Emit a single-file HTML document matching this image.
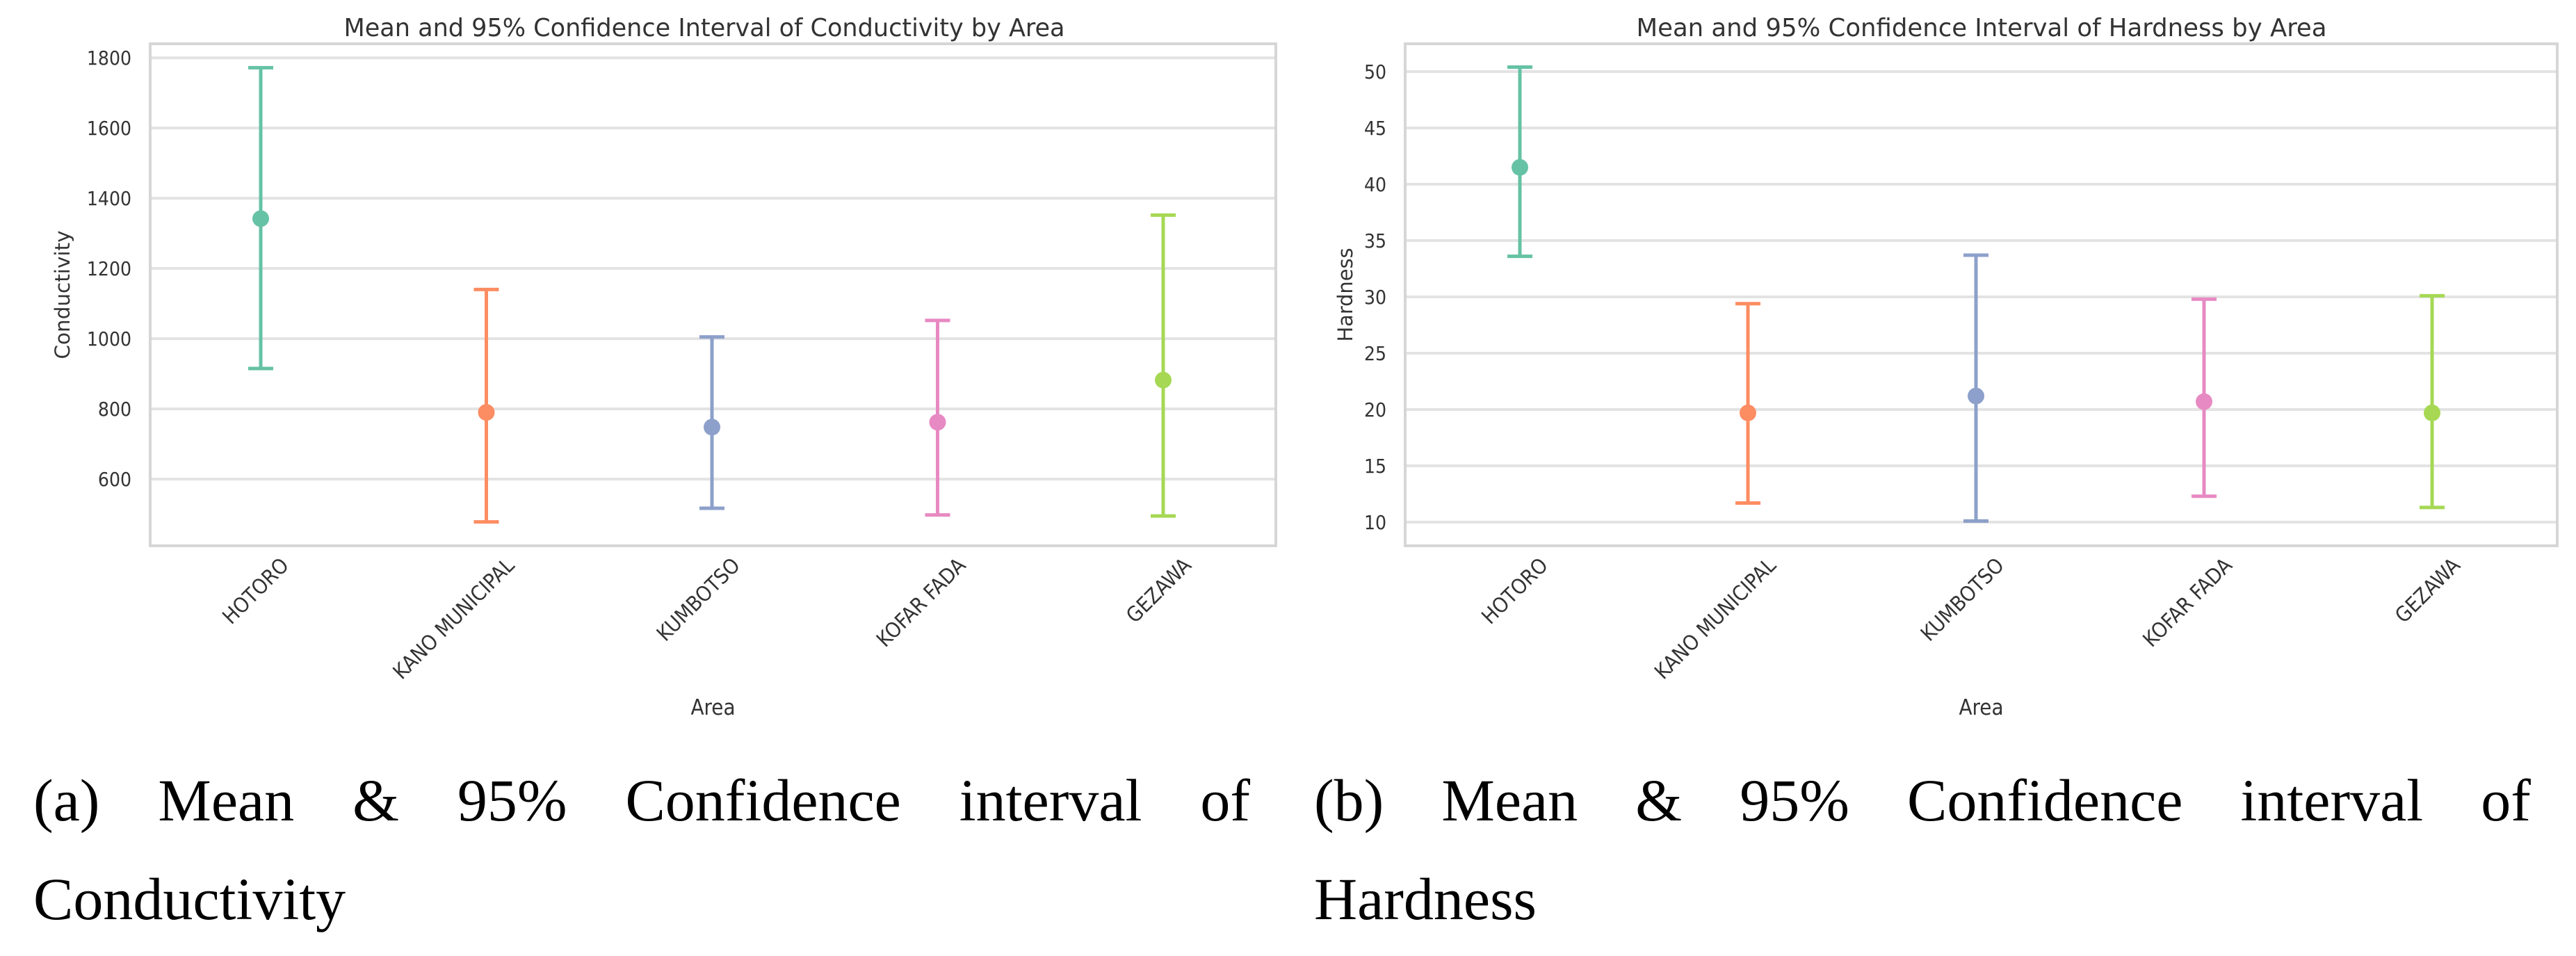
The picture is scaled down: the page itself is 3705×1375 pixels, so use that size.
<!DOCTYPE html>
<html><head><meta charset="utf-8"><style>
html,body{margin:0;padding:0;background:#fff;}
body{width:3705px;height:1375px;position:relative;overflow:hidden;}
svg{position:absolute;left:0;top:0;}
.cap{position:absolute;font-family:"Liberation Serif","DejaVu Serif",serif;font-size:86px;color:#000;line-height:142px;text-align:justify;text-align-last:justify;white-space:nowrap;}
</style></head><body>
<svg id="chart" width="3705" height="1050" viewBox="0 0 3705 1050"></svg>
<div class="cap" style="left:48px;top:1080px;width:1750px;">
<div style="display:flex;justify-content:space-between;"><span>(a)</span><span>Mean</span><span>&amp;</span><span>95%</span><span>Confidence</span><span>interval</span><span>of</span></div>
<div>Conductivity</div>
</div>
<div class="cap" style="left:1890px;top:1080px;width:1750px;">
<div style="display:flex;justify-content:space-between;"><span>(b)</span><span>Mean</span><span>&amp;</span><span>95%</span><span>Confidence</span><span>interval</span><span>of</span></div>
<div>Hardness</div>
</div>
<script>
const categories = ["HOTORO","KANO MUNICIPAL","KUMBOTSO","KOFAR FADA","GEZAWA"];
const colors = ["#66c2a5","#fc8d62","#8da0cb","#e78ac3","#a6d854"];
const condMean = [1342, 790, 748, 762, 882];
const condLow = [915, 478, 517, 498, 495];
const condHigh = [1772, 1140, 1005, 1052, 1352];
const condTicks = [600, 800, 1000, 1200, 1400, 1600, 1800];
const hardMean = [41.5, 19.7, 21.2, 20.7, 19.7];
const hardLow = [33.6, 11.7, 10.1, 12.3, 11.3];
const hardHigh = [50.4, 29.4, 33.7, 29.8, 30.1];
const hardTicks = [10, 15, 20, 25, 30, 35, 40, 45, 50];

const NS = "http://www.w3.org/2000/svg";
const svg = document.getElementById('chart');
function mk(tag, attrs, parent){const e=document.createElementNS(NS,tag);for(const k in attrs)e.setAttribute(k,attrs[k]);(parent||svg).appendChild(e);return e;}
const FONT = '"DejaVu Sans Condensed","DejaVu Sans","Liberation Sans",sans-serif';

function drawChart(cfg){
  const g = mk('g',{});
  
  
  const L=cfg.left,R=cfg.right,T=63,B=785;
  const y = v => B - (v - cfg.ymin)/(cfg.ymax - cfg.ymin)*(B-T);
  const x = i => cfg.x0 + cfg.dx*i;
  cfg.ticks.forEach(t=>{
    const ln = mk('line',{x1:L,x2:R,y1:y(t),y2:y(t),stroke:'#e3e3e3','stroke-width':4},g);
    
    
    const tx = mk('text',{x:L-27,y:y(t)+10,'text-anchor':'end','font-size':28,fill:'#333','font-family':FONT},g);
    tx.textContent = t;
    
    
  });
  const box = mk('rect',{x:L,y:T,width:R-L,height:B-T,fill:'none',stroke:'#d6d6d6','stroke-width':4},g);
  
  
  const ti = mk('text',{x:cfg.titleX,y:52,'text-anchor':'middle','font-size':36,fill:'#333','font-family':FONT,textLength:cfg.titleW,lengthAdjust:'spacingAndGlyphs'},g);
  ti.textContent = cfg.title;
  
  
  const yl = mk('text',{x:0,y:0,'text-anchor':'middle','font-size':29,fill:'#333','font-family':FONT,textLength:cfg.ylabW,lengthAdjust:'spacingAndGlyphs',transform:`translate(${cfg.ylabX},${(T+B)/2}) rotate(-90)`},g);
  yl.textContent = cfg.ylabel;
  
  
  const xl = mk('text',{x:(L+R)/2,y:1028,'text-anchor':'middle','font-size':31,fill:'#333','font-family':FONT},g);
  xl.textContent = 'Area';
  
  
  categories.forEach((c,i)=>{
    const cx=x(i), col=colors[i];
    const lab = mk('text',{x:0,y:0,'text-anchor':'end','font-size':30,fill:'#333','font-family':FONT,transform:`translate(${cx+42},${815}) rotate(-45)`},g);
    lab.textContent = c;
    
    
    const eb = mk('g',{},g);
    
    
    const lo=cfg.low[i], hi=cfg.high[i], m=cfg.mean[i];
    mk('line',{x1:cx,x2:cx,y1:y(lo),y2:y(hi),stroke:col,'stroke-width':5},eb);
    mk('line',{x1:cx-18,x2:cx+18,y1:y(hi),y2:y(hi),stroke:col,'stroke-width':5},eb);
    mk('line',{x1:cx-18,x2:cx+18,y1:y(lo),y2:y(lo),stroke:col,'stroke-width':5},eb);
    const pt = mk('circle',{cx:cx,cy:y(m),r:12,fill:col},eb);
    
    
  });
}
drawChart({name:'conductivity-chart',left:216,right:1835,x0:375,dx:324.5,ymin:410,ymax:1840,ticks:condTicks,
  mean:condMean,low:condLow,high:condHigh,title:'Mean and 95% Confidence Interval of Conductivity by Area',titleX:1013,titleW:1037,ylabel:'Conductivity',ylabX:100,ylabW:185});
drawChart({name:'hardness-chart',left:2021,right:3678,x0:2186,dx:328,ymin:7.9,ymax:52.47,ticks:hardTicks,
  mean:hardMean,low:hardLow,high:hardHigh,title:'Mean and 95% Confidence Interval of Hardness by Area',titleX:2850,titleW:993,ylabel:'Hardness',ylabX:1945,ylabW:135});
</script>
</body></html>
